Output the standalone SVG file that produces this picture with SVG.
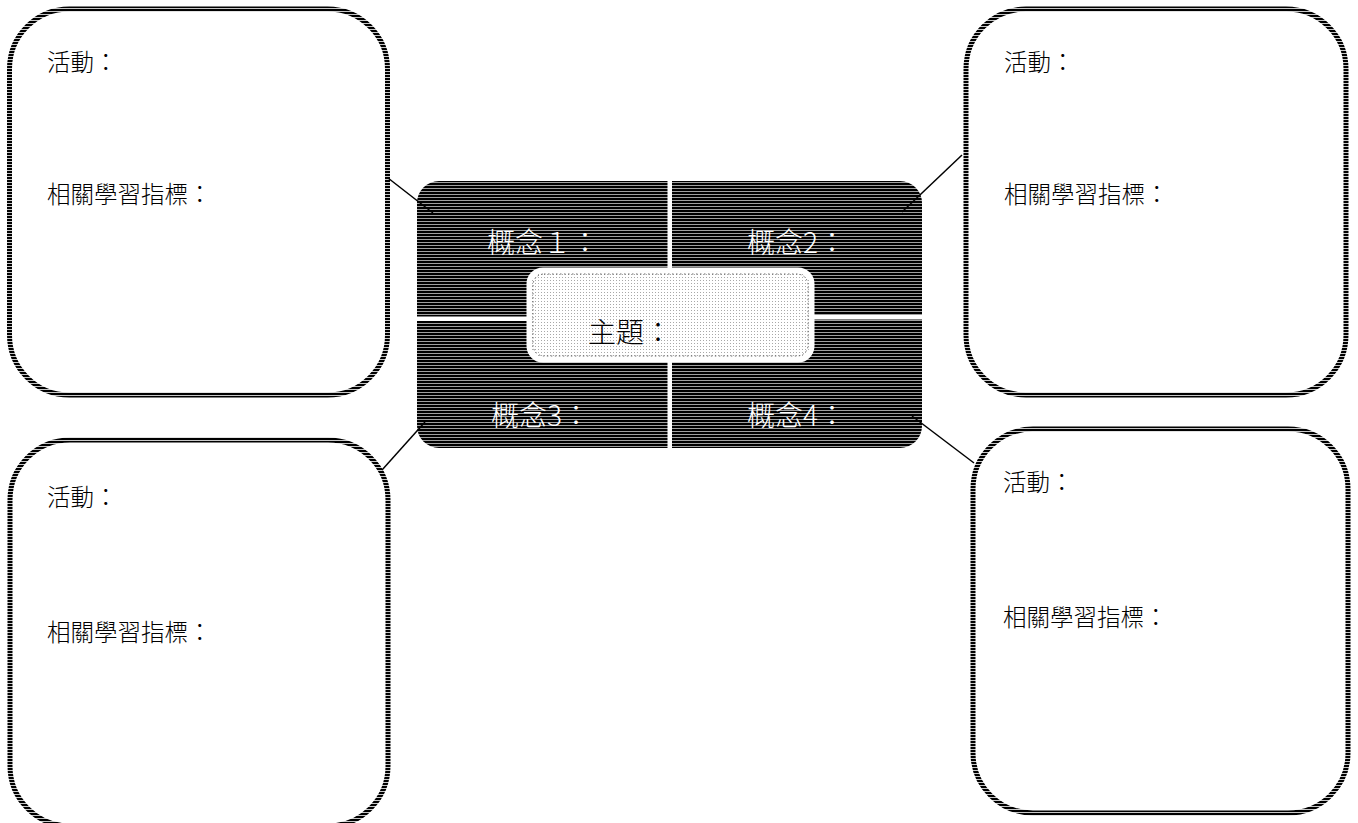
<svg xmlns="http://www.w3.org/2000/svg" width="1358" height="823" viewBox="0 0 1358 823">
  <defs>
    <pattern id="hstripe" width="4" height="3" patternUnits="userSpaceOnUse">
      <rect width="4" height="3" fill="#c8c8c8"/>
      <rect width="4" height="2" fill="#000"/>
    </pattern>
    <pattern id="fillstripe" width="4" height="3" patternUnits="userSpaceOnUse">
      <rect width="4" height="3" fill="#a0a0a0"/>
      <rect width="4" height="2" fill="#000"/>
    </pattern>
    <pattern id="dots" width="3" height="3" patternUnits="userSpaceOnUse">
      <rect width="3" height="3" fill="#fff"/>
      <rect x="1" y="1" width="1" height="1" fill="#a8a8a8"/>
    </pattern>
  </defs>
  <style>
    .box { fill: #fff; stroke: url(#hstripe); stroke-width: 5; }
    .lbl { font-family: "Noto Sans CJK TC", "Noto Sans CJK SC", sans-serif; font-weight: 300; font-size: 23.5px; fill: #000; }
    .con { font-family: "Noto Sans CJK TC", "Noto Sans CJK SC", sans-serif; font-weight: 300; font-size: 28px; fill: #fff; }
    .topic { font-family: "Noto Sans CJK TC", "Noto Sans CJK SC", sans-serif; font-weight: 300; font-size: 28px; fill: #000; }
    .link { stroke: #000; stroke-width: 1.5; fill: none; }
  </style>

  <g id="box-top-left">
    <rect class="box" x="9.5" y="9" width="378" height="386" rx="60" ry="60"/>
    <text class="lbl" x="47" y="71">活動：</text>
    <text class="lbl" x="47" y="203">相關學習指標：</text>
  </g>

  <g id="box-top-right">
    <rect class="box" x="966" y="9" width="380" height="386" rx="60" ry="60"/>
    <text class="lbl" x="1004" y="71">活動：</text>
    <text class="lbl" x="1004" y="203">相關學習指標：</text>
  </g>

  <g id="box-bottom-left">
    <rect class="box" x="10" y="440" width="378" height="386" rx="60" ry="60"/>
    <text class="lbl" x="47" y="506">活動：</text>
    <text class="lbl" x="47" y="641">相關學習指標：</text>
  </g>

  <g id="box-bottom-right">
    <rect class="box" x="973" y="429" width="375" height="384" rx="60" ry="60"/>
    <text class="lbl" x="1003" y="491">活動：</text>
    <text class="lbl" x="1003" y="626">相關學習指標：</text>
  </g>

  <g id="center">
    <rect x="417" y="181" width="505" height="267" rx="22" ry="22" fill="url(#fillstripe)"/>
    <rect x="667.5" y="179" width="4.5" height="271" fill="#fff"/>
    <rect x="415" y="316.5" width="254" height="4.5" fill="#fff"/>
    <rect x="670" y="315" width="254" height="4.5" fill="#fff"/>
    <text class="con" x="487" y="253">概念１：</text>
    <text class="con" x="747" y="253">概念2：</text>
    <text class="con" x="491" y="426">概念3：</text>
    <text class="con" x="747" y="426">概念4：</text>
  </g>

  <g id="topic">
    <rect x="529" y="270" width="283" height="90" rx="14" ry="14" fill="url(#dots)" stroke="#fff" stroke-width="5"/>
    <rect x="533" y="274" width="275" height="82" rx="11" ry="11" fill="none" stroke="#444" stroke-width="0.8" stroke-dasharray="1.5 2.5"/>
    <text class="topic" x="588" y="343">主題：</text>
  </g>

  <g id="connectors">
    <line class="link" x1="388" y1="178" x2="433" y2="213"/>
    <line class="link" x1="962" y1="155" x2="902" y2="212"/>
    <line class="link" x1="382" y1="470" x2="425" y2="422"/>
    <line class="link" x1="912" y1="416" x2="974" y2="463"/>
  </g>
</svg>
